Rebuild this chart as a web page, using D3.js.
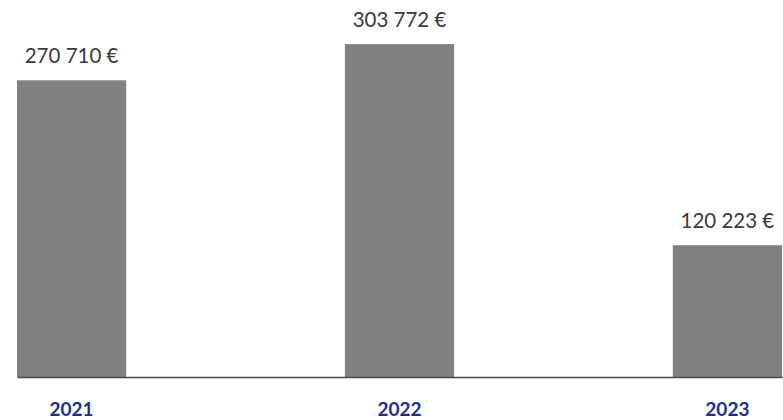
<!DOCTYPE html>
<html>
<head>
<meta charset="utf-8">
<script src="https://cdn.jsdelivr.net/npm/d3@7"></script>
<style>
  html, body { margin: 0; padding: 0; background: #ffffff; }
  svg { display: block; }
</style>
</head>
<body>
<svg id="chart" width="783" height="420"></svg>
<script>
const years = ["2021", "2022", "2023"];
const values = [270710, 303772, 120223];
const valueLabels = ["270 710 €", "303 772 €", "120 223 €"];

const svg = d3.select("#chart");
const W = 783, H = 420;
const baseY = 377;

const x = d3.scaleBand()
  .domain(years)
  .range([17, 782])
  .paddingInner(0.667)
  .paddingOuter(0);

const y = d3.scaleLinear()
  .domain([0, 344000])
  .range([baseY, 0]);

const data = years.map((yr, i) => ({ year: yr, value: values[i], label: valueLabels[i] }));

svg.append("g")
  .selectAll("rect")
  .data(data)
  .join("rect")
  .attr("x", d => x(d.year))
  .attr("y", d => y(d.value))
  .attr("width", x.bandwidth())
  .attr("height", d => y(0) - y(d.value))
  .attr("fill", "#808183");

// baseline axis
const axis = d3.axisBottom(x).tickSize(0).tickPadding(0).tickFormat("");
const gAxis = svg.append("g")
  .attr("transform", `translate(0,${baseY})`)
  .call(axis);
gAxis.select(".domain").attr("stroke", "#4a4a4a").attr("stroke-width", 1.5);

// year labels
svg.append("g")
  .selectAll("text")
  .data(data)
  .join("text")
  .attr("x", d => x(d.year) + x.bandwidth() / 2)
  .attr("y", 416)
  .attr("text-anchor", "middle")
  .attr("font-family", "Lato, 'Open Sans', sans-serif")
  .attr("font-weight", "bold")
  .attr("font-size", "19px")
  .attr("fill", "#1c2f8c")
  .text(d => d.year);

// value labels
svg.append("g")
  .selectAll("text")
  .data(data)
  .join("text")
  .attr("x", d => x(d.year) + x.bandwidth() / 2)
  .attr("y", d => y(d.value) - 17)
  .attr("text-anchor", "middle")
  .attr("font-family", "Lato, 'Open Sans', sans-serif")
  .attr("font-size", "20.5px")
  .attr("fill", "#3a3a3a")
  .text(d => d.label);
</script>
</body>
</html>
